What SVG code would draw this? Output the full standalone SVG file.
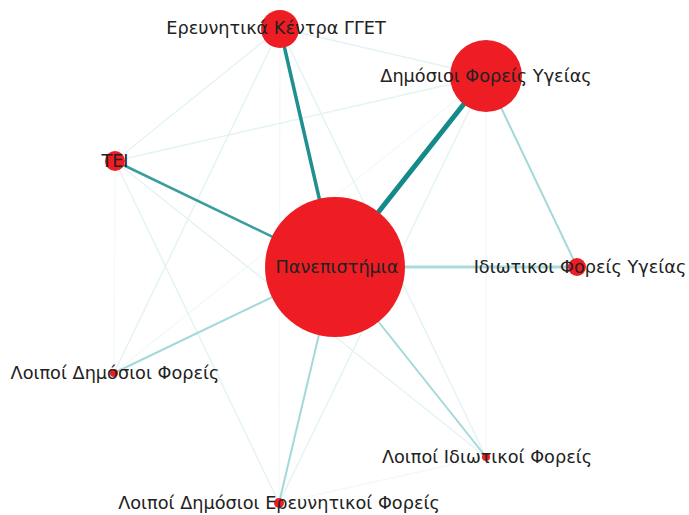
<svg xmlns="http://www.w3.org/2000/svg" width="689" height="515" viewBox="0 0 689 515">
  <style>
    .edge { fill: none; stroke-linecap: round; }
    .w1 { stroke: #158a8a; stroke-width: 5; }
    .w2 { stroke: #1f8f8f; stroke-width: 3.5; }
    .w3 { stroke: #3a9d9d; stroke-width: 2.5; }
    .w4 { stroke: #a9dcdc; stroke-width: 3; }
    .w5 { stroke: #a3d9d9; stroke-width: 2; }
    .faint { stroke: #e4f4f4; stroke-width: 1.5; }
    .ghost { stroke: #f2f9f9; stroke-width: 1.3; }
    .node circle { fill: #ee1d24; }
    .node text { font-family: "DejaVu Sans", Verdana, sans-serif; font-size: 17.7px; fill: #222; text-anchor: middle; }
  </style>
  <rect width="689" height="515" fill="#ffffff"/>

  <!-- links, weakest first -->
  <g id="connectors" class="edge">
    <line class="ghost" x1="115" y1="161" x2="114" y2="373"/>
    <line class="ghost" x1="486" y1="76" x2="114" y2="373"/>
    <line class="ghost" x1="280" y1="28" x2="279" y2="503"/>
    <line class="ghost" x1="486" y1="76" x2="486" y2="457"/>
    <line class="ghost" x1="279" y1="503" x2="486" y2="457"/>
    <line class="faint" x1="280" y1="28" x2="115" y2="161"/>
    <line class="faint" x1="280" y1="28" x2="486" y2="76"/>
    <line class="faint" x1="115" y1="161" x2="486" y2="76"/>
    <line class="faint" x1="280" y1="28" x2="114" y2="373"/>
    <line class="faint" x1="115" y1="161" x2="279" y2="503"/>
    <line class="faint" x1="115" y1="161" x2="486" y2="457"/>
    <line class="faint" x1="280" y1="28" x2="486" y2="457"/>
    <line class="faint" x1="486" y1="76" x2="279" y2="503"/>
    <line class="w5" x1="486" y1="76" x2="577" y2="267"/>
    <line class="w5" x1="335" y1="267" x2="114" y2="373"/>
    <line class="w5" x1="335" y1="267" x2="279" y2="503"/>
    <line class="w5" x1="335" y1="267" x2="486" y2="457"/>
    <line class="w4" x1="335" y1="267" x2="577" y2="267"/>
    <line class="w3" x1="335" y1="267" x2="115" y2="161"/>
    <line class="w2" x1="335" y1="267" x2="280" y2="28"/>
    <line class="w1" x1="335" y1="267" x2="486" y2="76"/>
  </g>

  <g id="node-panepistimia" class="node">
    <circle cx="335" cy="267" r="70"/>
  </g>
  <g id="node-dimosioi-foreis-ygeias" class="node">
    <circle cx="486" cy="76" r="36"/>
  </g>
  <g id="node-ereunitika-kentra" class="node">
    <circle cx="280" cy="29" r="19"/>
  </g>
  <g id="node-tei" class="node">
    <circle cx="115" cy="161" r="10"/>
  </g>
  <g id="node-idiotikoi-foreis-ygeias" class="node">
    <circle cx="577" cy="267" r="9"/>
  </g>
  <g id="node-loipoi-dimosioi-foreis" class="node">
    <circle cx="114" cy="373" r="4"/>
  </g>
  <g id="node-loipoi-idiotikoi-foreis" class="node">
    <circle cx="486" cy="457" r="4"/>
  </g>
  <g id="node-loipoi-dimosioi-ereunitikoi" class="node">
    <circle cx="279" cy="503" r="5"/>
  </g>

  <!-- labels drawn last so they sit above circles and links -->
  <g id="labels" class="node">
    <text x="337" y="273">Πανεπιστήμια</text>
    <text x="486" y="82">Δημόσιοι Φορείς Υγείας</text>
    <text x="276" y="34">Ερευνητικά Κέντρα ΓΓΕΤ</text>
    <text x="115" y="167">ΤΕΙ</text>
    <text x="580" y="273">Ιδιωτικοι Φορείς Υγείας</text>
    <text x="115" y="379">Λοιποί Δημόσιοι Φορείς</text>
    <text x="487" y="463">Λοιποί Ιδιωτικοί Φορείς</text>
    <text x="279" y="509">Λοιποί Δημόσιοι Ερευνητικοί Φορείς</text>
  </g>
</svg>
